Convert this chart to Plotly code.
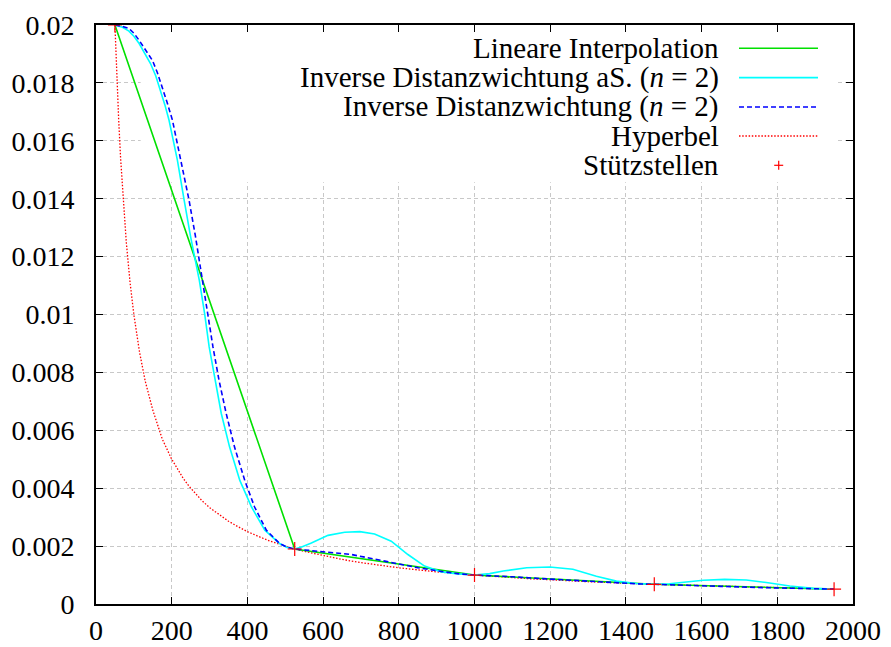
import plotly.graph_objects as go

# Stützstellen (support points)
x_nodes = [50, 525, 1000, 1475, 1950]
y_nodes = [0.02, 0.0019, 0.001, 0.00068, 0.000513]

# Hyperbel
x_hyp = [50, 55, 60, 65, 70, 80, 90, 100, 115, 130, 150, 175, 200, 215, 230,
         245, 260, 280, 300, 325, 350, 375, 400, 430, 460, 490, 525, 560, 600,
         650, 700, 800, 900, 1000, 1150, 1300, 1475, 1650, 1800, 1950]
y_hyp = [0.02, 0.0182, 0.0167, 0.0154, 0.0143, 0.0125, 0.0111, 0.0100, 0.0087,
         0.0077, 0.0067, 0.0057, 0.0050, 0.00465, 0.00435, 0.00408, 0.00385,
         0.00357, 0.00333, 0.00308, 0.00286, 0.00267, 0.0025, 0.00233, 0.00217,
         0.00204, 0.0019, 0.00179, 0.00167, 0.00154, 0.00143, 0.00125, 0.00111,
         0.0010, 0.00087, 0.00077, 0.00068, 0.00061, 0.00056, 0.000513]

# Inverse Distanzwichtung (n = 2)
x_idw = [50, 70, 87, 100, 114, 130, 149, 162, 175, 188, 202, 224, 246, 263, 281,
         296, 309, 325, 344, 366, 393, 419, 450, 485, 505, 525, 587, 675, 763,
         851, 921, 960, 1000, 1050, 1100, 1200, 1300, 1400, 1440, 1475, 1550,
         1650, 1750, 1850, 1910, 1950]
y_idw = [0.0200, 0.01995, 0.01988, 0.01972, 0.01947, 0.01915, 0.01878, 0.01836,
         0.01786, 0.01732, 0.01671, 0.01533, 0.01394, 0.01268, 0.01118, 0.01003,
         0.00888, 0.00773, 0.00658, 0.00542, 0.00427, 0.00335, 0.00255, 0.00209,
         0.00196, 0.0019, 0.00183, 0.00171, 0.00148, 0.00125, 0.00111, 0.00104,
         0.0010, 0.00098, 0.00094, 0.00086, 0.00078, 0.00071, 0.00069, 0.00068,
         0.00066, 0.00061, 0.00057, 0.00053, 0.00052, 0.000513]

# Inverse Distanzwichtung aS. (n = 2)
x_idw_as = [50, 70, 87, 100, 114, 128, 144, 158, 171, 182, 193, 215, 233, 250,
            273, 287, 299, 314, 331, 353, 380, 411, 446, 485, 505, 525, 545,
            569, 613, 657, 697, 736, 780, 824, 868, 912, 956, 1000, 1040, 1076,
            1138, 1199, 1260, 1322, 1375, 1428, 1475, 1515, 1551, 1604, 1661,
            1718, 1771, 1833, 1895, 1950]
y_idw_as = [0.0200, 0.01992, 0.01979, 0.01961, 0.01936, 0.01905, 0.01867,
            0.01824, 0.01774, 0.01724, 0.01671, 0.01533, 0.01394, 0.01268,
            0.01118, 0.01003, 0.00888, 0.00773, 0.00658, 0.00542, 0.00427,
            0.00335, 0.00255, 0.00209, 0.00195, 0.0019, 0.00198, 0.00211,
            0.00237, 0.00248, 0.0025, 0.00242, 0.00217, 0.00171, 0.00131,
            0.00111, 0.00104, 0.0010, 0.00105, 0.00114, 0.00125, 0.00128,
            0.00120, 0.00096, 0.00079, 0.00071, 0.00068, 0.0007, 0.00074,
            0.00082, 0.00085, 0.00083, 0.00074, 0.00062, 0.00054, 0.000513]

x_ticks = [0, 200, 400, 600, 800, 1000, 1200, 1400, 1600, 1800, 2000]
x_tick_labels = ["0", "200", "400", "600", "800", "1000", "1200", "1400",
                 "1600", "1800", "2000"]
y_ticks = [0, 0.002, 0.004, 0.006, 0.008, 0.01, 0.012, 0.014, 0.016, 0.018, 0.02]
y_tick_labels = ["0", "0.002", "0.004", "0.006", "0.008", "0.01", "0.012",
                 "0.014", "0.016", "0.018", "0.02"]

legend_labels = [
    "Lineare Interpolation",
    "Inverse Distanzwichtung aS. (<i>n</i> = 2)",
    "Inverse Distanzwichtung (<i>n</i> = 2)",
    "Hyperbel",
    "Stützstellen",
]

GREEN = "#00e000"
CYAN = "#00ffff"
BLUE = "#0000ff"
RED = "#ff0000"
FONT = "Liberation Serif, Times New Roman, serif"
TICK_SIZE = 28
KEY_SIZE = 29

fig = go.Figure()

fig.add_trace(go.Scatter(x=x_hyp, y=y_hyp, mode="lines",
                         line=dict(color=RED, width=1.3, dash="1.5px,1.7px")))
fig.add_trace(go.Scatter(x=x_nodes, y=y_nodes, mode="lines",
                         line=dict(color=GREEN, width=1.6)))
fig.add_trace(go.Scatter(x=x_idw_as, y=y_idw_as, mode="lines",
                         line=dict(color=CYAN, width=1.6)))
fig.add_trace(go.Scatter(x=x_idw, y=y_idw, mode="lines",
                         line=dict(color=BLUE, width=1.6, dash="5px,3px")))
fig.add_trace(go.Scatter(x=x_nodes, y=y_nodes, mode="markers",
                         marker=dict(symbol="cross-thin", size=10,
                                     line=dict(color=RED, width=1.2))))

# plot area in pixels: left 96.3, right 853.3, top 24.7, bottom 603.7
PL, PR, PT, PB = 96.3, 853.3, 24.7, 603.7


def px(xp):
    return (xp - PL) / (PR - PL)


def py(yp):
    return (PB - yp) / (PB - PT)


shapes = [
    # opaque key box hides the grid behind it
    dict(type="rect", xref="x", yref="y", x0=118, x1=1956, y0=0.01457,
         y1=0.0205, fillcolor="white", line=dict(width=0), layer="between"),
]

row_y = [48, 77.3, 106.7, 135.7, 165]
sample_styles = [
    dict(color=GREEN, width=1.6),
    dict(color=CYAN, width=1.6),
    dict(color=BLUE, width=1.6, dash="5px,3px"),
    dict(color=RED, width=1.3, dash="1.5px,1.7px"),
]
for yy, st in zip(row_y[:4], sample_styles):
    shapes.append(dict(type="line", xref="paper", yref="paper",
                       x0=px(739.3), x1=px(818.3), y0=py(yy), y1=py(yy),
                       line=st))
# "+" sample
shapes.append(dict(type="line", xref="paper", yref="paper",
                   x0=px(774.5), x1=px(783.5), y0=py(row_y[4]), y1=py(row_y[4]),
                   line=dict(color=RED, width=1.2)))
shapes.append(dict(type="line", xref="paper", yref="paper",
                   x0=px(779), x1=px(779), y0=py(row_y[4] - 4.5),
                   y1=py(row_y[4] + 4.5), line=dict(color=RED, width=1.2)))

annotations = []
for yy, label in zip(row_y, legend_labels):
    annotations.append(dict(text=label, xref="paper", yref="paper",
                            x=px(721), y=py(yy), xanchor="right",
                            yanchor="middle", showarrow=False,
                            font=dict(family=FONT, size=KEY_SIZE, color="black")))

axis_common = dict(
    showline=True, linecolor="black", linewidth=1.6, mirror="allticks",
    ticks="inside", ticklen=7, tickwidth=1.4, tickcolor="black",
    showgrid=True, gridcolor="#c8c8c8", gridwidth=1, griddash="4px,3px",
    zeroline=False, automargin=False,
    tickfont=dict(family=FONT, size=TICK_SIZE, color="black"),
)

fig.update_layout(
    width=891, height=647,
    margin=dict(l=96, r=38, t=25, b=43),
    paper_bgcolor="white", plot_bgcolor="white",
    font=dict(family=FONT, size=TICK_SIZE, color="black"),
    showlegend=False,
    xaxis=dict(range=[0, 2000], tickvals=x_ticks, ticktext=x_tick_labels,
               ticklabelstandoff=1, **axis_common),
    yaxis=dict(range=[0, 0.02], tickvals=y_ticks, ticktext=y_tick_labels,
               ticklabelstandoff=14, **axis_common),
    shapes=shapes,
    annotations=annotations,
)

fig.write_html("out.html")
